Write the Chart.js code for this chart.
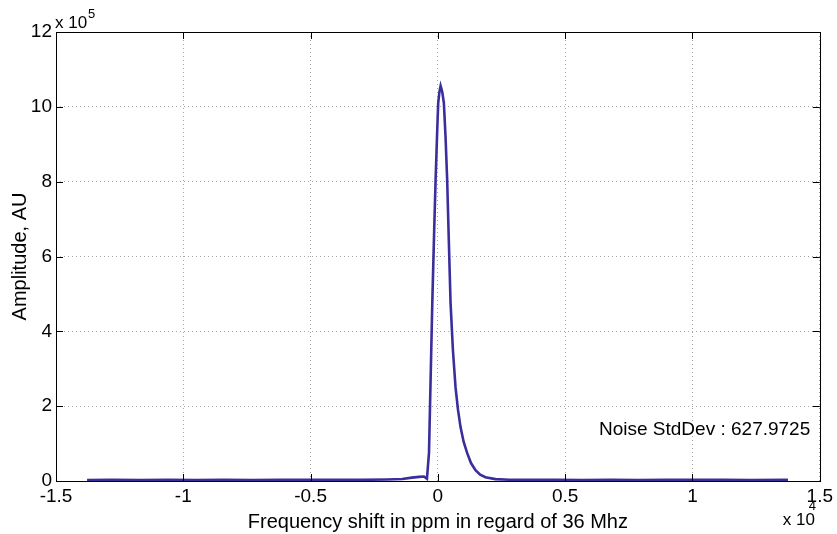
<!DOCTYPE html>
<html>
<head>
    <meta charset="UTF-8">
    <title>Spectrum</title>
    <script src="https://cdn.jsdelivr.net/npm/chart.js@4.4.0/dist/chart.umd.min.js"></script>
</head>
<style>
    body { margin: 0; background: #fff; }
</style>
<body>
    <canvas id="wykres" width="837" height="534"></canvas>

    <script>
        // frequency shift (ppm) and amplitude (AU)
        const freqPpm = [-13780, -12800, -11700, -10600, -9500, -8400, -7300, -6200, -5100, -4000,
            -3000, -2000, -1400, -1020, -740, -550, -430, -350, -290, -220, -150, -90, -30, 12, 60,
            106, 170, 235, 300, 364, 430, 497, 590, 693, 790, 889, 1010, 1148, 1300, 1477, 1660,
            1868, 2260, 2800, 3600, 4600, 5700, 6800, 7900, 9000, 10100, 11200, 12300, 13750];
        const amplitude = [2500, 3200, 2600, 3400, 2800, 3300, 2700, 3100, 2900, 3500,
            3000, 4200, 5500, 9000, 11000, 12000, 6000, 75000, 260000, 476000, 660000, 805000, 930000, 1010000, 1040000,
            1056000, 1040000, 1010000, 920000, 805000, 640000, 476000, 350000, 250000, 190000, 144000, 105000, 75000, 48000, 29000, 17000,
            10000, 5000, 3500, 3000, 3300, 2800, 3200, 2700, 3400, 2900, 3100, 2600, 3000];
        const noiseText = 'Noise StdDev : 627.9725';
        const xExp = '4';
        const yExp = '5';

        const FONT = 'Liberation Sans, Arial, Helvetica, sans-serif';

        const matlabBox = {
            id: 'matlabBox',
            afterDatasetsDraw(chart) {
                const ctx = chart.ctx;
                const a = chart.chartArea;
                const xs = chart.scales.x, ys = chart.scales.y;
                ctx.save();
                ctx.strokeStyle = '#000';
                ctx.lineWidth = 1;
                // inward ticks on all four sides
                ctx.beginPath();
                xs.ticks.forEach(t => {
                    const px = Math.round(xs.getPixelForValue(t.value)) + 0.5;
                    ctx.moveTo(px, a.bottom); ctx.lineTo(px, a.bottom - 7);
                    ctx.moveTo(px, a.top); ctx.lineTo(px, a.top + 7);
                });
                ys.ticks.forEach(t => {
                    const py = Math.round(ys.getPixelForValue(t.value)) + 0.5;
                    ctx.moveTo(a.left, py); ctx.lineTo(a.left + 7, py);
                    ctx.moveTo(a.right, py); ctx.lineTo(a.right - 7, py);
                });
                ctx.stroke();
                ctx.strokeRect(Math.round(a.left) + 0.5, Math.round(a.top) + 0.5,
                    Math.round(a.right - a.left), Math.round(a.bottom - a.top));

                // exponent labels
                ctx.fillStyle = '#000';
                ctx.textBaseline = 'alphabetic';
                ctx.textAlign = 'left';
                ctx.font = '17px ' + FONT;
                ctx.fillText('x 10', a.left - 1, 28);
                ctx.fillText('x 10', a.right - 37, 525);
                ctx.font = '13px ' + FONT;
                ctx.fillText(yExp, a.left + 32, 18);
                ctx.fillText(xExp, a.right - 11, 510);

                // annotation
                ctx.font = '19px ' + FONT;
                ctx.fillText(noiseText, 599, ys.getPixelForValue(123000));
                ctx.restore();
            }
        };

        const ctx = document.getElementById('wykres');
        new Chart(ctx, {
            type: 'line',
            data: {
                datasets: [{
                    data: freqPpm.map((f, i) => ({x: f, y: amplitude[i]})),
                    borderColor: 'rgb(58, 46, 156)',
                    borderWidth: 2.6,
                    pointRadius: 0,
                    tension: 0,
                    fill: false
                }]
            },
            options: {
                responsive: false,
                animation: false,
                layout: {padding: {top: 32, right: 15, left: 0, bottom: 0}},
                plugins: {legend: {display: false}, tooltip: {enabled: false}},
                scales: {
                    x: {
                        type: 'linear',
                        min: -15000, max: 15000,
                        afterFit: s => { s.height = 53; },
                        grid: {color: '#a8a8a8', drawTicks: false, lineWidth: 1},
                        border: {display: false, dash: [1, 3]},
                        ticks: {
                            stepSize: 5000, padding: 4, color: '#000', maxRotation: 0,
                            font: {family: FONT, size: 19},
                            callback: v => String(v / 1e4)
                        },
                        title: {
                            display: true, text: 'Frequency shift in ppm in regard of 36 Mhz',
                            color: '#000', font: {family: FONT, size: 20},
                            padding: {top: 0, bottom: 0}
                        }
                    },
                    y: {
                        min: 0, max: 1200000,
                        afterFit: s => { s.width = 56; },
                        grid: {color: '#a8a8a8', drawTicks: false, lineWidth: 1},
                        border: {display: false, dash: [1, 3]},
                        ticks: {
                            stepSize: 200000, padding: 4, color: '#000',
                            font: {family: FONT, size: 19},
                            callback: v => String(v / 1e5)
                        },
                        title: {
                            display: true, text: 'Amplitude, AU',
                            color: '#000', font: {family: FONT, size: 20},
                            padding: {top: 8, bottom: 0}
                        }
                    }
                }
            },
            plugins: [matlabBox]
        });
    </script>
</body>
</html>
